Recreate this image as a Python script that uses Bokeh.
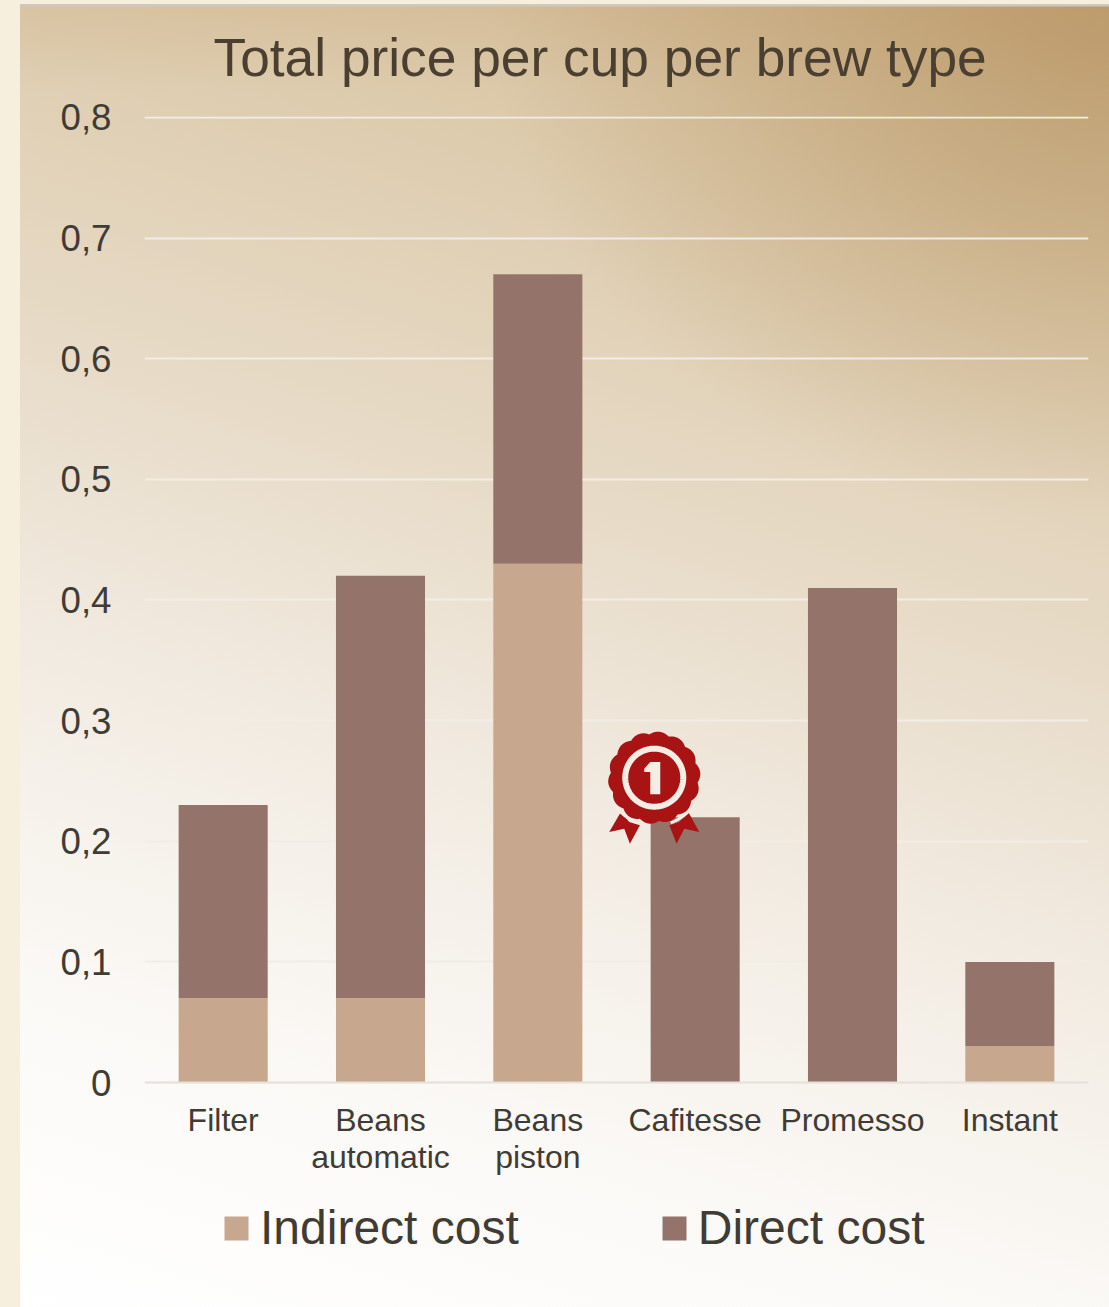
import numpy as np
from bokeh.embed import file_html
from bokeh.models import ColumnDataSource, FactorRange, FixedTicker, InlineStyleSheet, Legend, LegendItem, Range1d
from bokeh.plotting import figure
from bokeh.resources import INLINE

categories = ["Filter", "Beans\nautomatic", "Beans\npiston", "Cafitesse", "Promesso", "Instant"]
indirect_cost = [0.07, 0.07, 0.43, 0.0, 0.0, 0.03]
direct_cost = [0.16, 0.35, 0.24, 0.22, 0.41, 0.07]
y_ticks = [0, 0.1, 0.2, 0.3, 0.4, 0.5, 0.6, 0.7, 0.8]
y_labels = ["0", "0,1", "0,2", "0,3", "0,4", "0,5", "0,6", "0,7", "0,8"]
series = ["Indirect cost", "Direct cost"]
title_text = "Total price per cup per brew type"

FONT = "Liberation Sans"
CREAM = "#F7EFDE"
RED = "#A81414"
INK = "#403C35"
GAP = "#F3EDE4"

css = f""":host {{
  background:
    linear-gradient(to right, {CREAM} 20px, transparent 20px),
    linear-gradient(to bottom, {CREAM} 4px, #CFC9BC 4px, #CFC9BC 6px, rgba(190,150,100,0.16) 7px, rgba(190,150,100,0) 90px),
    radial-gradient(ellipse 620px 520px at 100% 0%, rgba(180,145,95,0.75) 0%, rgba(180,145,95,0) 100%),
    linear-gradient(197deg, #D4BC97 0%, #DCCAAB 18%, #E6D9C4 38%, #F1EAE0 58%, #FBF9F6 80%, #FFFFFF 100%);
}}"""

p = figure(
    width=1109, height=1307, output_backend="svg", toolbar_location=None,
    x_range=FactorRange(factors=categories, range_padding=0, factor_padding=0),
    y_range=Range1d(-0.1865, 0.8008),
    min_border_left=144, min_border_right=21, min_border_top=116, min_border_bottom=0,
    border_fill_alpha=0, background_fill_alpha=0, outline_line_color=None,
    stylesheets=[InlineStyleSheet(css=css)],
)

p.title.text = title_text
p.title.text_font = FONT
p.title.text_font_size = "53.3px"
p.title.text_font_style = "normal"
p.title.text_color = "#4A3F30"
p.title.align = "left"
p.title.vertical_align = "top"
p.title.offset = 69
p.title.standoff = 55

p.xgrid.visible = False
p.ygrid.grid_line_color = "#F1EDE6"
p.ygrid.grid_line_width = 2
p.ygrid.ticker = FixedTicker(ticks=y_ticks)

ax = p.yaxis[0]
ax.ticker = FixedTicker(ticks=y_ticks)
ax.major_label_overrides = dict(zip(y_ticks, y_labels))
ax.axis_line_color = None
ax.major_tick_line_color = None
ax.minor_tick_line_color = None
ax.major_label_standoff = 27
ax.major_label_text_font = FONT
ax.major_label_text_font_size = "36.7px"
ax.major_label_text_color = INK

bx = p.xaxis[0]
bx.fixed_location = 0
bx.axis_line_color = "#E6E1DA"
bx.axis_line_width = 2
bx.major_tick_line_color = None
bx.minor_tick_line_color = None
bx.major_label_standoff = 13
bx.major_label_orientation = "horizontal"
bx.major_label_text_font = FONT
bx.major_label_text_font_size = "32px"
bx.major_label_text_color = INK
bx.major_label_text_line_height = 1.04

src = ColumnDataSource(dict(cat=categories, indirect=indirect_cost, direct=direct_cost))
r = p.vbar_stack(["indirect", "direct"], x="cat", width=0.566, source=src,
                 color=["#C7A78D", "#94746A"], line_color=None)

legend = Legend(
    items=[LegendItem(label=series[i], renderers=[r[i]]) for i in range(2)],
    orientation="horizontal", location=(77, 52),
    background_fill_alpha=0, border_line_color=None,
    glyph_width=30, glyph_height=30, label_standoff=9, spacing=140, padding=0, margin=0,
    label_text_font=FONT, label_text_font_size="48px", label_text_color=INK,
)
p.add_layout(legend, "center")

# Rosette icon: outline in pixels around its centre, mapped onto the chart's own scales
PX_PER_CAT = 943 / 6
PX_PER_UNIT = 965 / 0.8
icon_x, icon_y = 3.24, 0.2527  # centre, in category slots and in axis value


def to_data(dx, dy):
    return icon_x + np.asarray(dx) / PX_PER_CAT, icon_y - np.asarray(dy) / PX_PER_UNIT


theta = np.linspace(0, 2 * np.pi, 721)
rad = 43.5 + 2.7 * np.abs(np.cos(7 * theta + np.pi / 4)) ** 0.9
scallop = to_data(rad * np.cos(theta), rad * np.sin(theta))


def zoomed(points):
    a = np.array(points, dtype=float)
    return to_data((a[:, 0] - 195) / 3, (a[:, 1] - 172) / 3)


tail_l = zoomed([(95, 275), (60, 335), (105, 325), (122, 370), (152, 315), (120, 305)])
tail_r = zoomed([(297, 275), (330, 335), (285, 325), (262, 370), (240, 315), (270, 305)])
one = zoomed([(183, 125), (213, 125), (213, 222), (183, 222), (183, 155), (165, 155), (165, 145)])
p.patch(tail_l[0], tail_l[1], color=RED, line_color=None)
p.patch(tail_r[0], tail_r[1], color=RED, line_color=None)
for lo, hi in ((35, 70), (110, 145)):
    arc_t = np.radians(np.linspace(lo, hi, 30))
    arc = to_data(48 * np.cos(arc_t), 48 * np.sin(arc_t))
    p.line(arc[0], arc[1], line_color=GAP, line_width=3)
p.patch(scallop[0], scallop[1], fill_color=RED, line_color=None)
ring_t = np.linspace(0, 2 * np.pi, 181)
ring = to_data(29 * np.cos(ring_t), 29 * np.sin(ring_t))
p.line(ring[0], ring[1], line_color=GAP, line_width=6)
p.patch(one[0], one[1], color=GAP, line_color=None)

html = file_html(p, INLINE)
html = html.replace("<head>", "<head><style>html,body{background:" + CREAM + "}</style>", 1)
open("out.html", "w").write(html)
